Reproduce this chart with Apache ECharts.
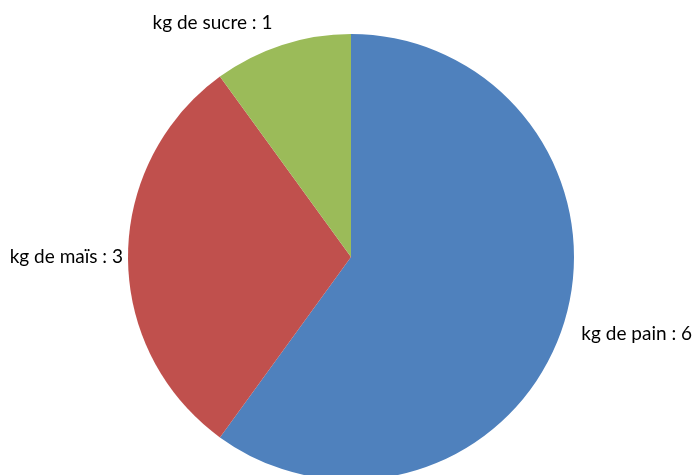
<!DOCTYPE html>
<html>
<head>
<meta charset="utf-8">
<script src="https://cdn.jsdelivr.net/npm/echarts@6/dist/echarts.min.js"></script>
<style>
  html, body { margin: 0; padding: 0; background: #fff; }
  #chart { width: 692px; height: 475px; }
</style>
</head>
<body>
<div id="chart"></div>
<script>
// Quantities bought, in kilograms
const categories = ['kg de pain', 'kg de maïs', 'kg de sucre'];
const values = [6, 3, 1];
const colors = ['#4F81BD', '#C0504D', '#9BBB59'];

const CENTER = [351, 257];
const RADIUS = 223;

// Mid angle of each slice, measured clockwise from 12 o'clock
const total = values.reduce((a, b) => a + b, 0);
const midAngles = [];
let acc = 0;
values.forEach(v => {
  midAngles.push((acc + v / 2) / total * 2 * Math.PI);
  acc += v;
});

const chart = echarts.init(document.getElementById('chart'));

chart.setOption({
  backgroundColor: '#ffffff',
  animation: false,
  series: [{
    type: 'pie',
    center: CENTER,
    radius: RADIUS,
    startAngle: 90,
    clockwise: true,
    silent: true,
    data: categories.map((name, i) => ({
      name: name,
      value: values[i],
      itemStyle: { color: colors[i] }
    })),
    label: {
      show: true,
      position: 'outside',
      formatter: '{b} : {c}',
      fontFamily: 'Lato',
      fontSize: 19,
      color: '#000',
      overflow: 'none',
      width: 300
    },
    labelLine: { show: false, length: 0, length2: 0 },
    // Labels sit just outside the rim, on the side the slice's bisector points to
    labelLayout: function (params) {
      const a = midAngles[params.dataIndex];
      const dx = Math.sin(a), dy = -Math.cos(a);
      const side = Math.abs(dy) < 0.2;
      const gap = side ? 5 : 15;
      let x = CENTER[0] + dx * (RADIUS + gap);
      let y = CENTER[1] + dy * (RADIUS + gap);
      if (!side) {
        // pull corner labels slightly round towards the horizontal
        x += dx < 0 ? -5 : 4;
        y += dy < 0 ? 2 : -6;
      }
      return {
        x: x,
        y: y,
        align: dx < 0 ? 'right' : 'left',
        verticalAlign: side ? 'middle' : (dy < 0 ? 'bottom' : 'top')
      };
    }
  }]
});
</script>
</body>
</html>
